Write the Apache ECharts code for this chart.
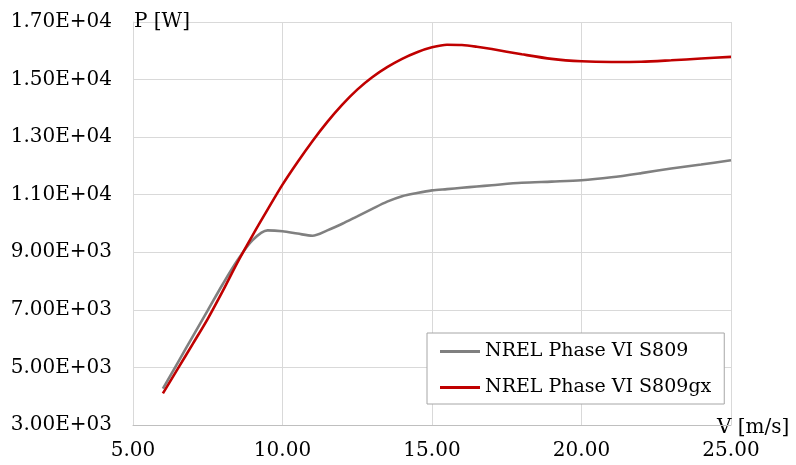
<!DOCTYPE html>
<html>
<head>
<meta charset="utf-8">
<title>P(V)</title>
<script src="https://cdn.jsdelivr.net/npm/echarts@6/dist/echarts.min.js"></script>
<style>
  html, body { margin: 0; padding: 0; background: #fff; }
  #chart { width: 796px; height: 465px; }
</style>
</head>
<body>
<div id="chart"></div>
<script>
// Wind speed V [m/s] and power P [W] for the two aerofoil models
const seriesNames = ['NREL Phase VI S809', 'NREL Phase VI S809gx'];

const speeds = [6, 6.5, 7, 7.5, 8, 8.5, 9, 9.5, 10, 10.5, 11, 11.5, 12, 12.5, 13, 13.5, 14, 14.5, 15, 15.5, 16, 16.5, 17, 18, 19, 20, 21, 22, 23, 24, 25];

const powerS809 = [4260, 5170, 6080, 6980, 7890, 8730, 9420, 9760, 9730, 9650, 9575, 9760, 9990, 10250, 10510, 10760, 10950, 11060, 11150, 11195, 11240, 11285, 11330, 11415, 11455, 11500, 11605, 11750, 11910, 12050, 12195];

const powerS809gx = [4100, 4960, 5820, 6690, 7650, 8660, 9590, 10480, 11350, 12130, 12860, 13530, 14130, 14650, 15080, 15430, 15720, 15950, 16120, 16210, 16200, 16140, 16060, 15880, 15720, 15636, 15612, 15620, 15670, 15730, 15790];

// Axis ranges and tick spacing
const xRange = [5, 25], xStep = 5;
const yRange = [3000, 17000], yStep = 2000;

function pairs(xs, ys) { return xs.map((x, i) => [x, ys[i]]); }

// Excel-like scientific notation: 1.70E+04
function sci(v) {
  if (v === 0) return '0.00E+00';
  const e = Math.floor(Math.log10(Math.abs(v)));
  const m = v / Math.pow(10, e);
  const sign = e < 0 ? '-' : '+';
  const ea = String(Math.abs(e)).padStart(2, '0');
  return m.toFixed(2) + 'E' + sign + ea;
}

const font = 'DejaVu Serif';
const chart = echarts.init(document.getElementById('chart'), null, { renderer: 'canvas' });

chart.setOption({
  animation: false,
  backgroundColor: '#fff',
  grid: { left: 133, right: 65, top: 22, bottom: 40, containLabel: false },
  xAxis: {
    type: 'value',
    min: xRange[0], max: xRange[1], interval: xStep,
    name: 'V [m/s]',
    nameLocation: 'end',
    nameGap: -14,
    nameTextStyle: { fontFamily: font, fontSize: 20, color: '#000', align: 'left', verticalAlign: 'top', padding: [-7, 0, 0, 0] },
    axisLine: { show: true, lineStyle: { color: '#bfbfbf', width: 1 } },
    axisTick: { show: false },
    axisLabel: { fontFamily: font, fontSize: 20, color: '#000', margin: 16, formatter: v => v.toFixed(2) },
    splitLine: { show: true, lineStyle: { color: '#d9d9d9', width: 1 } }
  },
  yAxis: {
    type: 'value',
    min: yRange[0], max: yRange[1], interval: yStep,
    name: 'P [W]',
    nameLocation: 'end',
    nameGap: 0,
    nameTextStyle: { fontFamily: font, fontSize: 20, color: '#000', align: 'left', verticalAlign: 'middle', padding: [0, 0, 0, 1] },
    axisLine: { show: true, lineStyle: { color: '#d9d9d9', width: 1 } },
    axisTick: { show: false },
    axisLabel: { fontFamily: font, fontSize: 20, color: '#000', margin: 21, formatter: v => sci(v) },
    splitLine: { show: true, lineStyle: { color: '#d9d9d9', width: 1 } }
  },
  legend: {
    orient: 'vertical',
    left: 427, top: 333,
    padding: [9, 13, 7, 13],
    itemGap: 17,
    itemWidth: 40,
    itemHeight: 20,
    borderColor: '#a6a6a6',
    borderWidth: 1,
    backgroundColor: '#fff',
    textStyle: { fontFamily: font, fontSize: 19, color: '#000' },
    data: seriesNames.map(n => ({ name: n, icon: 'path://M0,8.5 L40,8.5 L40,11.5 L0,11.5 Z' }))
  },
  series: [
    {
      name: seriesNames[0],
      type: 'line',
      data: pairs(speeds, powerS809),
      smooth: 0.3,
      showSymbol: false,
      symbol: 'none',
      lineStyle: { color: '#808080', width: 2.6 },
      itemStyle: { color: '#808080' }
    },
    {
      name: seriesNames[1],
      type: 'line',
      data: pairs(speeds, powerS809gx),
      smooth: 0.3,
      showSymbol: false,
      symbol: 'none',
      lineStyle: { color: '#c00000', width: 2.6 },
      itemStyle: { color: '#c00000' }
    }
  ]
});
</script>
</body>
</html>
